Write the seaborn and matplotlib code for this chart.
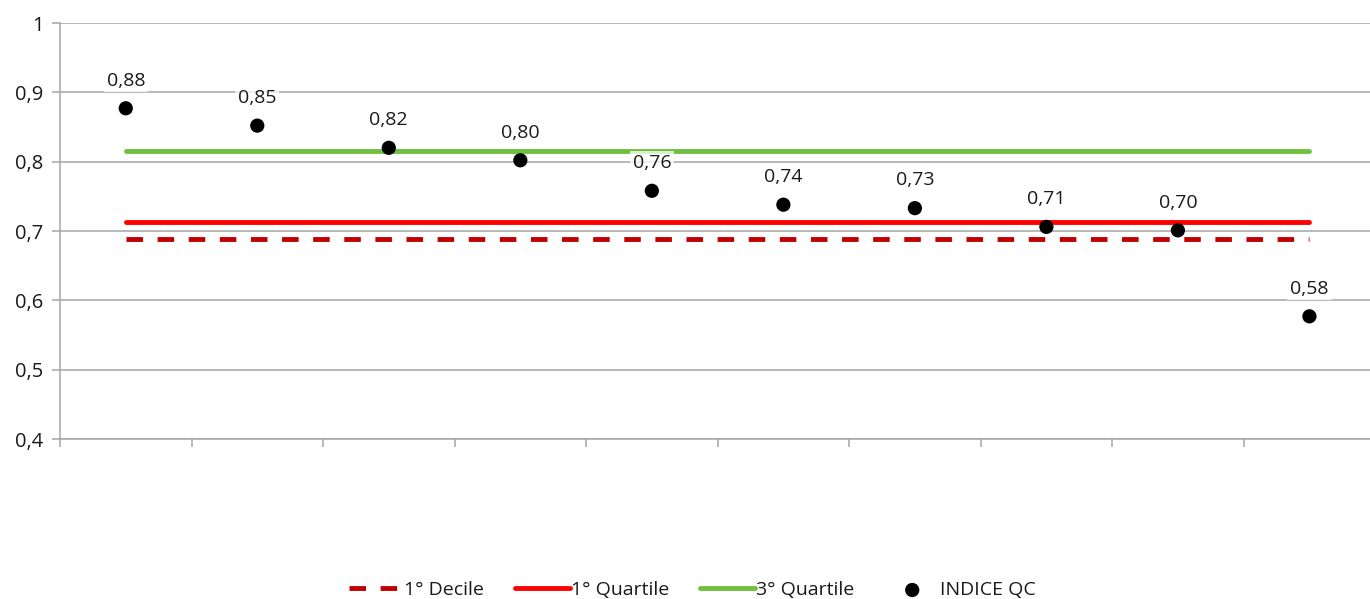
import numpy as np
import pandas as pd
import matplotlib
matplotlib.use("Agg")
import matplotlib.pyplot as plt
import seaborn as sns
from matplotlib.ticker import FixedLocator, FuncFormatter

# values
positions = list(range(10))
indice_qc = [0.877, 0.852, 0.820, 0.802, 0.758, 0.738, 0.733, 0.706, 0.701, 0.577]
point_labels = ["0,88", "0,85", "0,82", "0,80", "0,76", "0,74", "0,73", "0,71", "0,70", "0,58"]
decile_1 = [0.688] * 10
quartile_1 = [0.713] * 10
quartile_3 = [0.815] * 10

sns.set_theme(style="white")
plt.rcParams['font.family'] = ['Open Sans', 'DejaVu Sans']

df = pd.DataFrame({'pos': positions, 'INDICE QC': indice_qc,
                   '1° Decile': decile_1, '1° Quartile': quartile_1,
                   '3° Quartile': quartile_3})

fig = plt.figure(figsize=(13.7, 5.99), dpi=100)
ax = fig.add_axes([0.0438, 0.267, 0.96, 0.6946])

sns.lineplot(data=df, x='pos', y='1° Decile', ax=ax, color='#C00000', lw=3.5,
             linestyle=(0, (3.4, 3.0)), label='1° Decile')
sns.lineplot(data=df, x='pos', y='1° Quartile', ax=ax, color='#FF0000', lw=3.5,
             solid_capstyle='round', label='1° Quartile')
sns.lineplot(data=df, x='pos', y='3° Quartile', ax=ax, color='#70BF40', lw=3.5,
             solid_capstyle='round', label='3° Quartile')
sns.scatterplot(data=df, x='pos', y='INDICE QC', ax=ax, color='black', s=105,
                edgecolor='none', label='INDICE QC', zorder=5)

for x, y, t in zip(positions, indice_qc, point_labels):
    ax.annotate(t, (x, y), xytext=(0, 20), textcoords='offset points',
                ha='center', va='center', fontsize=14, color='#1a1a1a', zorder=6,
                bbox=dict(boxstyle='square,pad=0.15', fc='white', ec='none', alpha=0.75))

ax.set_xlim(-0.5, 9.5)
ax.set_ylim(0.4, 1.0)
ax.yaxis.set_major_locator(FixedLocator(np.arange(0.4, 1.01, 0.1)))
ax.yaxis.set_major_formatter(FuncFormatter(lambda v, p: f"{v:.1f}".replace('.', ',').replace('1,0', '1')))
ax.grid(axis='y', color='#A6A6A6', lw=1.1)
ax.set_axisbelow(True)
ax.xaxis.set_major_locator(FixedLocator(np.arange(-0.5, 9.6, 1)))
ax.set_xticklabels([])
ax.tick_params(axis='x', bottom=True, length=6, width=1.1, color='#A6A6A6', direction='out')
ax.tick_params(axis='y', left=True, length=6, width=1.1, color='#A6A6A6', labelsize=14.5,
               labelcolor='#1a1a1a', pad=6)
ax.set_xlabel('')
ax.set_ylabel('')
for s in ['top', 'right']:
    ax.spines[s].set_visible(False)
for s in ['left', 'bottom']:
    ax.spines[s].set_color('#A6A6A6')
    ax.spines[s].set_linewidth(1.1)

ax.legend(loc='center', bbox_to_anchor=(0.481, -0.363), ncol=4, frameon=False,
          fontsize=14, handlelength=2.8, columnspacing=1.6, handletextpad=0.05,
          labelcolor='#1a1a1a')

fig.savefig('out.png', dpi=100)
